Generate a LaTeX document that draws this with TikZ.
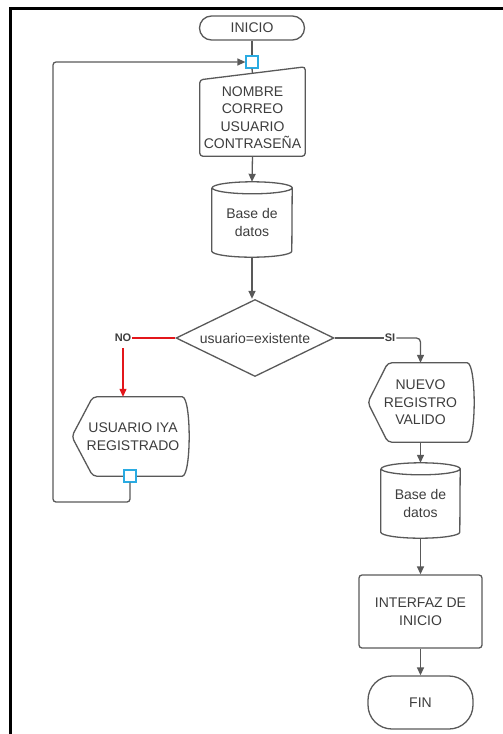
\documentclass[tikz,border=0pt]{standalone}
\usepackage{fontspec}
\setmainfont{Liberation Sans}
\usetikzlibrary{shapes.geometric,arrows.meta}
\definecolor{linea}{HTML}{595959}
\definecolor{texto}{HTML}{3D3D3D}
\definecolor{rojo}{HTML}{E3161B}
\definecolor{celeste}{HTML}{2AABE2}
\begin{document}
\begin{tikzpicture}[x=1pt,y=-1pt,
		every node/.style={font=\fontsize{14}{17.5}\selectfont,text=texto,align=center,inner sep=0pt},
		trazo/.style={draw=linea,line width=1.3pt},
		flecha/.style={trazo,-{Triangle[length=8pt,width=7pt]}},
		union/.style={draw=celeste,fill=white,line width=1.2pt,minimum size=12pt},
		etiqueta/.style={font=\fontsize{11}{13}\selectfont\bfseries}]
		\useasboundingbox (0,0) rectangle (503,734);
		\draw[line width=3pt] (10,734) |- (503,8.5);
		\node[trazo,rounded corners=12pt,minimum width=105pt,minimum height=24pt] (inicio) at (252,28) {INICIO};
		\node[union] (j1) at (252,62) {};
		\node[minimum width=105pt,minimum height=77pt] (datos) at (252.5,117.5) {NOMBRE\\CORREO\\USUARIO\\CONTRASEÑA};
		\draw[trazo,rounded corners=3pt] (datos.south west) -- ([yshift=-1pt]datos.north west) -- ([yshift=12pt]datos.north east) -- (datos.south east) -- cycle;
		\node[minimum width=80pt,minimum height=69pt] (db1) at (252,222.5) {Base de\\datos};
		\draw[trazo] (db1.north west) -- ([yshift=6pt]db1.south west) arc[start angle=180,end angle=360,x radius=40pt,y radius=6pt] -- (db1.north east) arc[start angle=0,end angle=360,x radius=40pt,y radius=6pt];
		\node[trazo,diamond,aspect=2.05,minimum width=158pt,minimum height=77pt] (dec) at (255,338) {usuario=existente};
		\node[etiqueta] (no) at (123,338) {NO};
		\node[etiqueta] (si) at (390,338) {SI};
		\node[minimum width=116pt,minimum height=79pt] (usu) at (130,436.5) {\hspace*{6pt}USUARIO IYA\\\hspace*{6pt}REGISTRADO};
		\draw[trazo,rounded corners=4pt] (usu.west) -- ([xshift=21pt]usu.north west) -- ([xshift=-10pt]usu.north east) .. controls ([xshift=3.3pt]usu.north east) and ([xshift=3.3pt]usu.south east) .. ([xshift=-10pt]usu.south east) -- ([xshift=21pt]usu.south west) -- cycle;
		\node[union] (j2) at (130,476) {};
		\node[minimum width=105pt,minimum height=79pt] (nuevo) at (420.5,402.5) {NUEVO\\REGISTRO\\VALIDO};
		\draw[trazo,rounded corners=4pt] (nuevo.west) -- ([xshift=20pt]nuevo.north west) -- ([xshift=-10pt]nuevo.north east) .. controls ([xshift=3.3pt]nuevo.north east) and ([xshift=3.3pt]nuevo.south east) .. ([xshift=-10pt]nuevo.south east) -- ([xshift=20pt]nuevo.south west) -- cycle;
		\node[minimum width=79pt,minimum height=69pt] (db2) at (420.5,503.5) {Base de\\datos};
		\draw[trazo] (db2.north west) -- ([yshift=6pt]db2.south west) arc[start angle=180,end angle=360,x radius=39.5pt,y radius=6pt] -- (db2.north east) arc[start angle=0,end angle=360,x radius=39.5pt,y radius=6pt];
		\node[trazo,rounded corners=3pt,minimum width=123pt,minimum height=73pt] (interfaz) at (420.5,611.5) {INTERFAZ DE\\INICIO};
		\node[trazo,rounded corners=24pt,minimum width=105pt,minimum height=53pt] (fin) at (420.5,702.5) {FIN};
		\coordinate (esq) at (53,502);
		\draw[trazo] (inicio.south) -- (j1.north);
		\draw[trazo] (j1.south) -- ([yshift=5.5pt]datos.north);
		\draw[flecha] (datos.south) -- ([yshift=6pt]db1.north);
		\draw[flecha] (db1.south) -- (db1.south |- dec.north);
		\draw[rojo,line width=1.3pt] (dec.west) -- ([xshift=1pt]no.east);
		\draw[rojo,line width=1.3pt,-{Triangle[length=8pt,width=7pt]}] ([yshift=-6pt]no.south) -- (no.south |- usu.north);
		\draw[trazo] (dec.east) -- ([xshift=-1pt]si.west);
		\draw[flecha,rounded corners=4pt] ([xshift=1pt]si.east) -| (nuevo.north);
		\draw[flecha] (nuevo.south) -- ([yshift=6pt]db2.north);
		\draw[flecha] (db2.south) -- (interfaz.north);
		\draw[flecha] (interfaz.south) -- (fin.north);
		\draw[flecha,rounded corners=3pt] (j2.south) |- (esq) |- (j1.west);
	\end{tikzpicture}
\end{document}
